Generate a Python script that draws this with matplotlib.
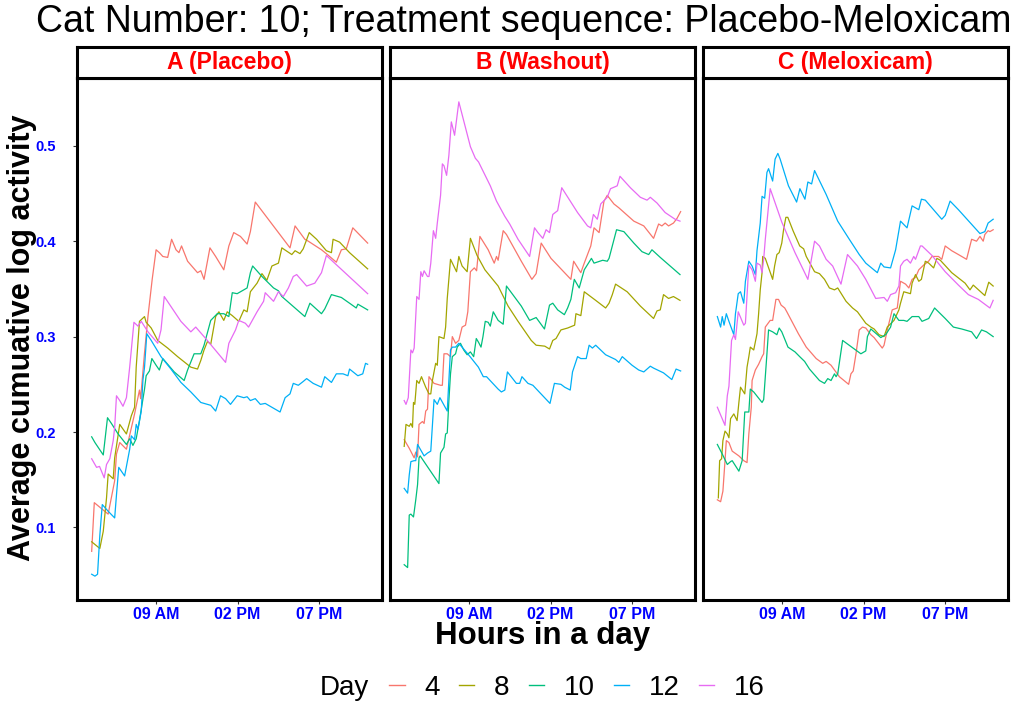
import matplotlib
matplotlib.use("Agg")
import matplotlib.pyplot as plt
from matplotlib.lines import Line2D

plt.rcParams['font.family'] = ['Liberation Sans', 'DejaVu Sans']

days = ['4', '8', '10', '12', '16']
colors = ['#F8766D', '#A3A500', '#00BF7D', '#00B0F6', '#E76BF3']
panel_titles = ['A (Placebo)', 'B (Washout)', 'C (Meloxicam)']
tick_hours = [9, 14, 19]
tick_labels = ['09 AM', '02 PM', '07 PM']
y_ticks = [0.1, 0.2, 0.3, 0.4, 0.5]

# (hour of day, average cumulative log activity)
# ---- A (Placebo)
a_day4 = [(5.05, 0.075), (5.21, 0.126), (6.06, 0.114), (6.46, 0.149), (6.57, 0.177),
          (6.77, 0.189), (7.18, 0.182), (7.68, 0.219), (7.98, 0.244), (8.05, 0.235),
          (8.29, 0.283), (8.50, 0.321), (8.76, 0.36), (9.0, 0.391), (9.20, 0.388),
          (9.41, 0.384), (9.71, 0.383), (9.95, 0.402), (10.22, 0.391), (10.4, 0.388),
          (10.56, 0.395), (10.93, 0.379), (11.54, 0.367), (11.74, 0.369), (11.94, 0.36),
          (12.30, 0.393), (12.65, 0.384), (13.15, 0.370), (13.46, 0.395), (13.76, 0.409),
          (14.17, 0.405), (14.58, 0.397), (14.78, 0.410), (15.08, 0.441), (17.21, 0.393),
          (17.52, 0.416), (18.12, 0.402), (18.33, 0.40), (19.14, 0.391), (19.5, 0.386),
          (20.05, 0.378), (20.36, 0.391), (20.66, 0.392), (21.06, 0.414), (21.97, 0.398)]
a_day8 = [(5.05, 0.085), (5.55, 0.078), (5.76, 0.096), (5.96, 0.131), (6.06, 0.156),
          (6.37, 0.151), (6.46, 0.173), (6.77, 0.208), (7.18, 0.198), (7.48, 0.217),
          (7.68, 0.226), (7.78, 0.268), (7.98, 0.316), (8.29, 0.321), (8.39, 0.315),
          (8.70, 0.309), (9.10, 0.296), (9.71, 0.288), (10.32, 0.279), (11.13, 0.268),
          (11.54, 0.266), (11.74, 0.275), (11.94, 0.286), (12.15, 0.295), (12.35, 0.292),
          (12.65, 0.321), (12.85, 0.326), (13.15, 0.317), (13.36, 0.326), (13.67, 0.322),
          (14.07, 0.316), (14.38, 0.328), (14.58, 0.326), (14.78, 0.347), (15.19, 0.356),
          (15.49, 0.366), (15.79, 0.359), (16.10, 0.374), (16.50, 0.377), (16.71, 0.393),
          (17.32, 0.386), (17.52, 0.39), (17.82, 0.387), (18.02, 0.392), (18.39, 0.409),
          (18.84, 0.402), (19.44, 0.39), (19.75, 0.388), (19.85, 0.402), (20.25, 0.399),
          (20.86, 0.388), (21.97, 0.371)]
a_day10 = [(5.05, 0.195), (5.25, 0.189), (5.76, 0.176), (6.02, 0.215), (6.26, 0.209),
           (6.67, 0.198), (7.18, 0.187), (7.38, 0.193), (7.58, 0.186), (7.78, 0.193),
           (7.98, 0.212), (8.29, 0.245), (8.39, 0.259), (8.59, 0.264), (8.74, 0.277),
           (9.0, 0.270), (9.20, 0.265), (9.41, 0.277), (9.71, 0.271), (10.11, 0.263),
           (10.72, 0.254), (10.93, 0.265), (11.33, 0.282), (11.74, 0.282), (11.94, 0.291),
           (12.35, 0.317), (12.75, 0.324), (13.15, 0.324), (13.46, 0.321), (13.67, 0.346),
           (13.97, 0.345), (14.58, 0.351), (14.78, 0.367), (14.92, 0.374), (15.49, 0.363),
           (16.20, 0.351), (16.50, 0.348), (16.71, 0.342), (18.12, 0.321), (18.43, 0.335),
           (19.14, 0.324), (19.34, 0.329), (19.75, 0.344), (20.36, 0.341), (20.86, 0.335),
           (21.27, 0.330), (21.37, 0.334), (21.97, 0.328)]
a_day12 = [(5.05, 0.051), (5.25, 0.049), (5.41, 0.051), (5.55, 0.092), (5.70, 0.124),
           (6.06, 0.117), (6.46, 0.110), (6.57, 0.134), (6.71, 0.163), (7.07, 0.154),
           (7.38, 0.182), (7.48, 0.196), (7.68, 0.192), (7.78, 0.208), (7.89, 0.203),
           (8.09, 0.222), (8.19, 0.254), (8.29, 0.268), (8.43, 0.303), (8.70, 0.296),
           (9.30, 0.279), (9.91, 0.266), (10.52, 0.252), (11.13, 0.242), (11.74, 0.231),
           (12.35, 0.228), (12.65, 0.222), (12.95, 0.238), (13.26, 0.235), (13.56, 0.229),
           (13.97, 0.238), (14.38, 0.236), (14.58, 0.237), (14.78, 0.233), (15.08, 0.235),
           (15.39, 0.229), (15.69, 0.230), (16.60, 0.221), (16.91, 0.236), (17.21, 0.240),
           (17.41, 0.251), (17.72, 0.249), (18.02, 0.253), (18.23, 0.256), (18.63, 0.251),
           (19.14, 0.247), (19.34, 0.258), (19.75, 0.252), (20.05, 0.261), (20.46, 0.261),
           (20.76, 0.259), (20.86, 0.266), (21.37, 0.259), (21.67, 0.261), (21.84, 0.272),
           (21.97, 0.271)]
a_day16 = [(5.05, 0.172), (5.35, 0.163), (5.53, 0.164), (5.82, 0.152), (5.96, 0.166),
           (6.16, 0.172), (6.37, 0.191), (6.46, 0.205), (6.57, 0.238), (6.77, 0.233),
           (6.97, 0.227), (7.18, 0.236), (7.38, 0.268), (7.48, 0.286), (7.64, 0.315),
           (7.89, 0.311), (8.09, 0.316), (8.50, 0.305), (9.10, 0.293), (9.30, 0.307),
           (9.50, 0.342), (10.01, 0.329), (10.52, 0.316), (11.13, 0.305), (11.43, 0.310),
           (12.04, 0.298), (13.26, 0.273), (13.46, 0.293), (13.87, 0.307), (14.07, 0.317),
           (14.47, 0.314), (14.67, 0.310), (15.19, 0.326), (15.59, 0.337), (15.69, 0.346),
           (16.20, 0.337), (16.50, 0.347), (16.80, 0.342), (17.11, 0.351), (17.41, 0.363),
           (17.62, 0.365), (18.23, 0.353), (18.73, 0.356), (19.14, 0.367), (19.44, 0.385),
           (21.97, 0.345)]

# ---- B (Washout)
b_day4 = [(5.02, 0.192), (5.33, 0.183), (5.63, 0.173), (5.73, 0.179), (5.84, 0.174),
          (5.93, 0.208), (6.14, 0.211), (6.24, 0.209), (6.34, 0.222), (6.45, 0.224),
          (6.54, 0.258), (6.85, 0.251), (7.25, 0.249), (7.36, 0.249), (7.46, 0.282),
          (7.66, 0.282), (7.86, 0.279), (7.97, 0.300), (8.17, 0.293), (8.37, 0.296),
          (8.57, 0.310), (8.78, 0.312), (8.92, 0.326), (9.08, 0.368), (9.32, 0.372),
          (9.46, 0.369), (9.66, 0.405), (10.17, 0.391), (10.54, 0.377), (10.68, 0.384),
          (10.78, 0.380), (11.09, 0.411), (11.29, 0.407), (12.20, 0.379), (12.85, 0.360),
          (13.11, 0.366), (13.42, 0.398), (14.02, 0.382), (15.24, 0.360), (15.41, 0.379),
          (15.85, 0.367), (16.06, 0.377), (16.26, 0.386), (16.46, 0.395), (16.66, 0.414),
          (16.97, 0.409), (17.27, 0.442), (17.47, 0.448), (17.88, 0.439), (18.18, 0.435),
          (19.10, 0.421), (19.71, 0.416), (20.31, 0.403), (20.62, 0.418), (20.82, 0.416),
          (21.02, 0.419), (21.23, 0.416), (21.53, 0.419), (21.75, 0.424), (21.97, 0.431)]
b_day8 = [(5.02, 0.185), (5.13, 0.208), (5.33, 0.206), (5.43, 0.209), (5.53, 0.205),
          (5.59, 0.231), (5.67, 0.229), (5.79, 0.254), (5.93, 0.251), (6.08, 0.258),
          (6.34, 0.247), (6.54, 0.240), (6.65, 0.240), (6.75, 0.254), (6.95, 0.272),
          (7.05, 0.270), (7.15, 0.300), (7.46, 0.298), (7.56, 0.310), (7.66, 0.340),
          (7.86, 0.381), (8.06, 0.374), (8.23, 0.368), (8.37, 0.384), (8.57, 0.374),
          (8.88, 0.368), (9.08, 0.403), (9.49, 0.385), (9.97, 0.370), (10.78, 0.353),
          (11.39, 0.332), (12.0, 0.316), (12.81, 0.296), (13.11, 0.291), (13.64, 0.290),
          (13.93, 0.287), (14.13, 0.296), (14.33, 0.298), (14.63, 0.307), (15.04, 0.309),
          (15.47, 0.312), (15.55, 0.324), (15.85, 0.322), (16.06, 0.347), (16.76, 0.338),
          (17.37, 0.330), (17.58, 0.335), (17.78, 0.344), (17.98, 0.355), (18.69, 0.347),
          (19.50, 0.332), (20.31, 0.319), (20.52, 0.327), (20.72, 0.328), (20.92, 0.344),
          (21.23, 0.340), (21.53, 0.342), (21.93, 0.338)]
b_day10 = [(5.02, 0.061), (5.23, 0.058), (5.33, 0.113), (5.43, 0.114), (5.59, 0.111),
           (5.73, 0.129), (5.84, 0.145), (5.93, 0.173), (6.0, 0.175), (7.15, 0.146),
           (7.25, 0.178), (7.46, 0.184), (7.56, 0.198), (7.66, 0.199), (7.76, 0.233),
           (7.86, 0.261), (7.97, 0.279), (8.17, 0.282), (8.27, 0.289), (8.47, 0.293),
           (8.67, 0.286), (8.88, 0.281), (9.08, 0.284), (9.28, 0.279), (9.44, 0.298),
           (9.58, 0.294), (9.73, 0.289), (9.85, 0.300), (9.99, 0.316), (10.17, 0.315),
           (10.30, 0.311), (10.48, 0.326), (10.78, 0.317), (11.09, 0.313), (11.29, 0.353),
           (12.20, 0.332), (12.71, 0.317), (13.11, 0.320), (13.62, 0.308), (13.93, 0.333),
           (14.13, 0.335), (14.43, 0.328), (14.84, 0.323), (15.04, 0.330), (15.24, 0.339),
           (15.45, 0.360), (15.75, 0.351), (16.06, 0.370), (16.50, 0.382), (16.66, 0.377),
           (17.19, 0.380), (17.47, 0.379), (17.58, 0.382), (18.04, 0.412), (18.49, 0.410),
           (19.10, 0.398), (19.60, 0.389), (20.01, 0.386), (20.21, 0.391), (20.72, 0.383),
           (21.93, 0.365)]
b_day12 = [(5.02, 0.141), (5.23, 0.136), (5.33, 0.155), (5.43, 0.169), (5.63, 0.170),
           (5.73, 0.170), (5.84, 0.187), (6.24, 0.175), (6.45, 0.178), (6.65, 0.180),
           (6.85, 0.234), (7.05, 0.229), (7.21, 0.236), (7.66, 0.222), (7.76, 0.254),
           (7.86, 0.286), (7.97, 0.289), (8.17, 0.289), (8.37, 0.293), (9.06, 0.279),
           (9.57, 0.268), (9.87, 0.258), (10.07, 0.258), (10.78, 0.245), (10.98, 0.242),
           (11.19, 0.244), (11.35, 0.263), (11.90, 0.251), (12.10, 0.251), (12.24, 0.258),
           (12.61, 0.251), (12.91, 0.249), (13.96, 0.230), (14.23, 0.251), (14.63, 0.250),
           (14.86, 0.247), (15.20, 0.244), (15.34, 0.263), (15.65, 0.279), (15.85, 0.277),
           (16.18, 0.277), (16.36, 0.291), (16.56, 0.288), (16.76, 0.291), (17.37, 0.281),
           (17.98, 0.276), (18.18, 0.273), (18.39, 0.279), (18.99, 0.270), (19.40, 0.265),
           (19.71, 0.263), (20.11, 0.269), (20.31, 0.267), (20.92, 0.262), (21.43, 0.255),
           (21.69, 0.266), (21.97, 0.264)]
b_day16 = [(5.02, 0.233), (5.13, 0.229), (5.27, 0.236), (5.43, 0.286), (5.53, 0.283),
           (5.63, 0.288), (5.79, 0.342), (5.93, 0.339), (6.04, 0.368), (6.14, 0.363),
           (6.24, 0.369), (6.45, 0.363), (6.54, 0.363), (6.65, 0.377), (6.81, 0.411),
           (6.95, 0.403), (7.05, 0.419), (7.25, 0.448), (7.36, 0.481), (7.46, 0.479),
           (7.62, 0.469), (7.76, 0.490), (7.91, 0.525), (8.11, 0.511), (8.37, 0.546),
           (9.08, 0.499), (9.38, 0.487), (9.58, 0.483), (10.30, 0.458), (10.68, 0.442),
           (11.19, 0.426), (11.49, 0.418), (12.0, 0.402), (12.71, 0.384), (13.01, 0.414),
           (13.22, 0.409), (13.52, 0.403), (13.72, 0.412), (13.93, 0.409), (14.13, 0.428),
           (14.43, 0.432), (14.68, 0.456), (15.65, 0.430), (16.26, 0.416), (16.46, 0.414),
           (16.62, 0.428), (16.86, 0.423), (17.07, 0.439), (17.47, 0.446), (17.67, 0.455),
           (18.08, 0.458), (18.25, 0.468), (18.89, 0.456), (19.50, 0.446), (19.91, 0.443),
           (20.11, 0.446), (20.52, 0.440), (21.02, 0.430), (21.63, 0.423), (21.93, 0.421)]

# ---- C (Meloxicam)
c_day4 = [(5.03, 0.129), (5.23, 0.127), (5.37, 0.138), (5.50, 0.170), (5.58, 0.191),
          (5.74, 0.189), (5.94, 0.180), (6.35, 0.175), (6.65, 0.170), (6.85, 0.168),
          (6.96, 0.198), (7.11, 0.226), (7.16, 0.254), (7.36, 0.265), (7.56, 0.271),
          (7.77, 0.279), (7.87, 0.282), (7.97, 0.310), (8.27, 0.317), (8.42, 0.317),
          (8.62, 0.339), (8.78, 0.339), (8.94, 0.333), (9.16, 0.330), (9.29, 0.326),
          (10.0, 0.303), (10.48, 0.289), (11.09, 0.277), (11.49, 0.272), (11.70, 0.274),
          (12.0, 0.270), (12.51, 0.258), (13.08, 0.250), (13.22, 0.261), (13.36, 0.264),
          (13.53, 0.282), (13.73, 0.307), (13.93, 0.310), (14.13, 0.309), (14.44, 0.302),
          (14.64, 0.299), (15.14, 0.288), (15.25, 0.291), (15.45, 0.307), (15.75, 0.328),
          (16.06, 0.330), (16.26, 0.358), (16.57, 0.355), (16.77, 0.351), (16.97, 0.360),
          (17.18, 0.362), (17.38, 0.370), (17.68, 0.375), (17.98, 0.379), (18.19, 0.384),
          (18.59, 0.384), (18.79, 0.381), (19.0, 0.395), (19.40, 0.390), (19.81, 0.386),
          (20.31, 0.381), (20.62, 0.402), (20.92, 0.400), (21.13, 0.405), (21.33, 0.400),
          (21.43, 0.407), (21.63, 0.411), (21.74, 0.410), (21.94, 0.412)]
c_day8 = [(5.09, 0.131), (5.17, 0.170), (5.29, 0.172), (5.37, 0.191), (5.50, 0.201),
          (5.64, 0.198), (5.74, 0.194), (5.84, 0.214), (6.04, 0.219), (6.24, 0.212),
          (6.35, 0.231), (6.45, 0.247), (6.71, 0.240), (6.85, 0.268), (6.96, 0.279),
          (7.05, 0.289), (7.26, 0.286), (7.46, 0.303), (7.56, 0.324), (7.66, 0.349),
          (7.77, 0.367), (7.81, 0.384), (7.97, 0.382), (8.42, 0.360), (8.54, 0.374),
          (8.68, 0.386), (8.82, 0.388), (8.98, 0.398), (9.09, 0.412), (9.23, 0.425),
          (9.35, 0.425), (9.67, 0.411), (10.08, 0.395), (10.32, 0.392), (10.48, 0.384),
          (10.99, 0.368), (11.29, 0.366), (11.60, 0.360), (11.90, 0.351), (12.21, 0.349),
          (12.41, 0.351), (12.92, 0.337), (13.32, 0.330), (13.62, 0.326), (14.13, 0.314),
          (14.44, 0.310), (14.64, 0.308), (14.94, 0.302), (15.25, 0.300), (15.45, 0.310),
          (15.86, 0.317), (16.16, 0.328), (16.26, 0.335), (16.46, 0.347), (16.87, 0.345),
          (16.97, 0.356), (17.18, 0.365), (17.38, 0.358), (17.54, 0.360), (17.78, 0.379),
          (17.99, 0.377), (18.29, 0.372), (18.49, 0.382), (18.70, 0.380), (19.40, 0.367),
          (20.22, 0.356), (20.52, 0.349), (20.72, 0.354), (21.43, 0.343), (21.67, 0.357),
          (21.94, 0.353)]
c_day10 = [(5.03, 0.187), (5.33, 0.177), (5.64, 0.166), (5.84, 0.169), (5.94, 0.170),
           (6.35, 0.159), (6.55, 0.170), (6.71, 0.221), (6.96, 0.221), (7.05, 0.245),
           (7.26, 0.242), (7.77, 0.231), (7.87, 0.234), (8.07, 0.282), (8.17, 0.307),
           (8.42, 0.305), (8.68, 0.302), (8.82, 0.309), (8.98, 0.305), (9.36, 0.289),
           (9.79, 0.284), (10.08, 0.279), (10.38, 0.274), (10.68, 0.266), (11.29, 0.254),
           (11.60, 0.251), (11.80, 0.256), (12.0, 0.254), (12.21, 0.261), (12.31, 0.258),
           (12.41, 0.261), (12.71, 0.296), (13.83, 0.282), (14.13, 0.285), (14.23, 0.300),
           (14.44, 0.308), (15.05, 0.299), (15.35, 0.302), (15.65, 0.310), (15.86, 0.324),
           (16.16, 0.317), (16.46, 0.317), (16.66, 0.316), (16.97, 0.321), (17.38, 0.321),
           (17.58, 0.316), (17.99, 0.319), (18.35, 0.330), (19.0, 0.319), (19.50, 0.310),
           (20.01, 0.308), (20.62, 0.305), (20.92, 0.298), (21.23, 0.307), (21.53, 0.305),
           (21.94, 0.300)]
c_day12 = [(5.03, 0.321), (5.23, 0.310), (5.33, 0.321), (5.44, 0.312), (5.58, 0.324),
           (5.74, 0.316), (6.04, 0.302), (6.14, 0.324), (6.31, 0.345), (6.45, 0.347),
           (6.65, 0.335), (6.75, 0.358), (6.96, 0.379), (7.16, 0.374), (7.36, 0.365),
           (7.46, 0.390), (7.66, 0.419), (7.77, 0.447), (7.93, 0.445), (8.07, 0.472),
           (8.17, 0.476), (8.42, 0.463), (8.57, 0.486), (8.74, 0.492), (8.88, 0.486),
           (9.39, 0.458), (9.89, 0.441), (10.09, 0.455), (10.40, 0.444), (10.58, 0.462),
           (10.81, 0.460), (10.99, 0.474), (11.70, 0.449), (12.41, 0.421), (13.12, 0.402),
           (13.73, 0.386), (14.13, 0.377), (14.84, 0.367), (15.05, 0.377), (15.25, 0.373),
           (15.65, 0.372), (15.96, 0.391), (16.26, 0.421), (16.66, 0.414), (16.97, 0.437),
           (17.38, 0.433), (17.54, 0.444), (17.78, 0.443), (18.79, 0.423), (19.0, 0.427),
           (19.30, 0.442), (19.81, 0.433), (21.13, 0.408), (21.43, 0.410), (21.63, 0.419),
           (21.94, 0.423)]
c_day16 = [(5.03, 0.226), (5.50, 0.207), (5.64, 0.238), (5.74, 0.248), (5.90, 0.296),
           (6.04, 0.302), (6.14, 0.297), (6.31, 0.326), (6.65, 0.312), (6.75, 0.314),
           (6.96, 0.375), (7.16, 0.370), (7.36, 0.358), (7.46, 0.377), (7.66, 0.375),
           (7.77, 0.367), (7.87, 0.381), (7.97, 0.402), (8.27, 0.455), (8.98, 0.420),
           (9.79, 0.388), (10.30, 0.370), (10.58, 0.360), (10.99, 0.400), (11.29, 0.395),
           (11.70, 0.381), (12.10, 0.374), (12.61, 0.355), (13.01, 0.386), (13.62, 0.374),
           (14.13, 0.360), (14.74, 0.340), (15.25, 0.341), (15.45, 0.337), (15.65, 0.344),
           (15.96, 0.346), (16.16, 0.353), (16.26, 0.374), (16.46, 0.379), (16.66, 0.381),
           (16.87, 0.377), (17.07, 0.384), (17.18, 0.381), (17.48, 0.395), (17.58, 0.395),
           (18.19, 0.385), (19.0, 0.368), (19.81, 0.354), (20.42, 0.344), (21.03, 0.339),
           (21.74, 0.330), (21.94, 0.338)]

panel_series = [
    [a_day4, a_day8, a_day10, a_day12, a_day16],
    [b_day4, b_day8, b_day10, b_day12, b_day16],
    [c_day4, c_day8, c_day10, c_day12, c_day16],
]

W, H = 1015, 708
fig = plt.figure(figsize=(W / 100, H / 100), dpi=100)

panel_left = [77, 390, 703]
panel_w = 305
top, bottom, strip_top = 78, 600, 47


def fbox(x0, y0, x1, y1):
    # pixel box (top-left origin) -> figure fraction rect
    return [x0 / W, 1 - y1 / H, (x1 - x0) / W, (y1 - y0) / H]


for i, left in enumerate(panel_left):
    ax = fig.add_axes(fbox(left, top, left + panel_w, bottom))
    for s, col in zip(panel_series[i], colors):
        hrs = [p[0] for p in s]
        vals = [p[1] for p in s]
        ax.plot(hrs, vals, color=col, lw=0.9)
    ax.set_xlim(4.15, 22.85)
    ax.set_ylim(0.024, 0.571)
    ax.set_xticks(tick_hours)
    ax.set_xticklabels(tick_labels, color='blue', fontsize=11.5, fontweight='bold')
    ax.tick_params(axis='x', length=3, width=0.8, color='#333333', pad=2)
    if i == 0:
        ax.set_yticks(y_ticks)
        ax.set_yticklabels([str(t) for t in y_ticks], color='blue', fontsize=10.5,
                           fontweight='bold')
        ax.tick_params(axis='y', length=3, width=0.8, color='#333333', pad=12)
    else:
        ax.set_yticks([])
    for sp in ax.spines.values():
        sp.set_linewidth(2.2)
        sp.set_color('black')

    sax = fig.add_axes(fbox(left, strip_top, left + panel_w, top))
    sax.set_xticks([])
    sax.set_yticks([])
    for sp in sax.spines.values():
        sp.set_linewidth(2.2)
    sax.text(0.5, 0.5, panel_titles[i], transform=sax.transAxes, ha='center',
             va='center', color='red', fontsize=16.5, fontweight='bold')

fig.text(524 / W, 1 - 22 / H, 'Cat Number: 10; Treatment sequence: Placebo-Meloxicam',
         ha='center', va='center', fontsize=27)
fig.text(22 / W, 1 - 338 / H, 'Average cumuative log activity', rotation=90,
         ha='center', va='center', fontsize=22, fontweight='bold')
fig.text(543 / W, 1 - 636 / H, 'Hours in a day', ha='center', va='center',
         fontsize=22.5, fontweight='bold')

handles = [Line2D([], [], color=c, lw=1.0) for c in colors]
fig.text(344 / W, 1 - 688 / H, 'Day', ha='center', va='center', fontsize=20)
fig.legend(handles, days, loc='center', bbox_to_anchor=(577 / W, 1 - 688 / H),
           ncol=5, frameon=False, fontsize=20, handlelength=0.55,
           handletextpad=0.7, columnspacing=0.7)

fig.savefig('out.png', dpi=100)
